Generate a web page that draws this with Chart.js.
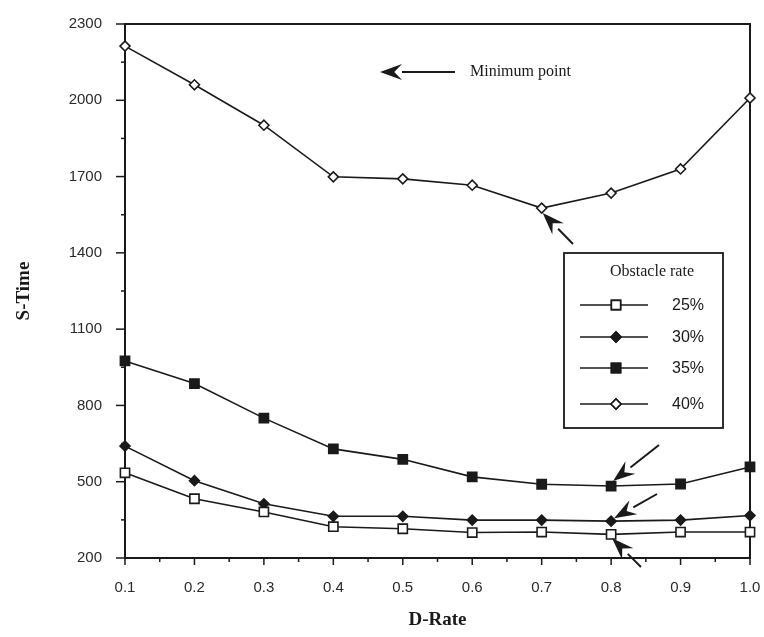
<!DOCTYPE html>
<html>
<head>
<meta charset="utf-8">
<script src="https://cdn.jsdelivr.net/npm/chart.js@4.4.0/dist/chart.umd.min.js"></script>
<style>
  html, body { margin: 0; padding: 0; background: #fff; }
</style>
</head>
<body>
<canvas id="mygraph" width="764" height="637"></canvas>
<script>
// values
const dRate = [0.1, 0.2, 0.3, 0.4, 0.5, 0.6, 0.7, 0.8, 0.9, 1.0];
const rate25 = [535, 433, 381, 323, 315, 300, 302, 293, 302, 302];
const rate30 = [640, 504, 413, 364, 364, 349, 349, 345, 349, 367];
const rate35 = [975, 886, 750, 629, 588, 519, 490, 483, 491, 558];
const rate40 = [2213, 2061, 1902, 1699, 1691, 1666, 1576, 1635, 1730, 2009];
const seriesNames = ['25%', '30%', '35%', '40%'];
const yTicks = [200, 500, 800, 1100, 1400, 1700, 2000, 2300];

const ink = '#1a1a1a';

let toPoints = (arr) => dRate.map((x, i) => ({ x: x, y: arr[i] }));

let makeSet = (label, arr, style, fill, radius) => ({
  label: label,
  data: toPoints(arr),
  borderColor: ink,
  borderWidth: 1.6,
  pointStyle: style,
  pointRadius: radius,
  pointBorderWidth: 1.6,
  pointBorderColor: ink,
  pointBackgroundColor: fill,
  tension: 0,
  clip: false
});

// tick marks and the box round the plot
const frame = {
  id: 'frame',
  beforeDatasetsDraw(chart) {
    const { ctx, chartArea: a, scales: { x, y } } = chart;
    ctx.save();
    ctx.strokeStyle = ink;
    ctx.lineWidth = 2;
    ctx.strokeRect(a.left, a.top, a.right - a.left, a.bottom - a.top);
    ctx.lineWidth = 1.5;
    for (let v = 200; v <= 2300; v += 150) {
      const py = y.getPixelForValue(v);
      const len = (v - 200) % 300 === 0 ? 9 : 4;
      ctx.beginPath(); ctx.moveTo(a.left - len, py); ctx.lineTo(a.left, py); ctx.stroke();
    }
    for (let i = 0; i <= 18; i++) {
      const v = 0.1 + i * 0.05;
      const px = x.getPixelForValue(v);
      const len = i % 2 === 0 ? 7 : 4;
      ctx.beginPath(); ctx.moveTo(px, a.bottom); ctx.lineTo(px, a.bottom + len); ctx.stroke();
    }
    ctx.restore();
  }
};

let arrow = (ctx, x1, y1, x2, y2) => {
  const ang = Math.atan2(y2 - y1, x2 - x1);
  const hl = 22, hw = 8;
  const bx = x2 - Math.cos(ang) * hl, by = y2 - Math.sin(ang) * hl;
  ctx.beginPath(); ctx.moveTo(x1, y1); ctx.lineTo(bx, by); ctx.stroke();
  ctx.beginPath();
  ctx.moveTo(x2, y2);
  ctx.lineTo(bx + Math.sin(ang) * hw, by - Math.cos(ang) * hw);
  ctx.lineTo(x2 - Math.cos(ang) * hl * 0.65, y2 - Math.sin(ang) * hl * 0.65);
  ctx.lineTo(bx - Math.sin(ang) * hw, by + Math.cos(ang) * hw);
  ctx.closePath(); ctx.fill();
};

// arrows to the minimum points, the note and the legend box
const notes = {
  id: 'notes',
  afterDraw(chart) {
    const { ctx, scales: { x, y } } = chart;
    ctx.save();
    ctx.strokeStyle = ink; ctx.fillStyle = ink; ctx.lineWidth = 2;

    arrow(ctx, 455, 72, 380, 72);
    ctx.font = '16px "Liberation Serif"';
    ctx.textBaseline = 'middle';
    ctx.fillText('Minimum point', 470, 72);

    const px7 = x.getPixelForValue(0.7), px8 = x.getPixelForValue(0.8);
    arrow(ctx, 573, 244, px7 + 1, y.getPixelForValue(rate40[6]) + 5);
    arrow(ctx, 659, 445, px8 + 2, y.getPixelForValue(rate35[7]) - 5);
    arrow(ctx, 657, 494, px8 + 3, y.getPixelForValue(rate30[7]) - 3);
    arrow(ctx, 641, 567, px8 + 1, y.getPixelForValue(rate25[7]) + 4);

    // legend
    ctx.lineWidth = 1.8;
    ctx.fillStyle = '#fff';
    ctx.fillRect(564, 253, 159, 175);
    ctx.strokeRect(564, 253, 159, 175);
    ctx.fillStyle = ink;
    ctx.textAlign = 'center';
    ctx.font = '16px "Liberation Serif"';
    ctx.fillText('Obstacle rate', 652, 272);
    const rows = [305, 337, 368, 404];
    ctx.textAlign = 'left';
    ctx.font = '16px "Liberation Sans"';
    chart.data.datasets.forEach((ds, i) => {
      const ry = rows[i];
      ctx.lineWidth = 1.6;
      ctx.beginPath(); ctx.moveTo(580, ry); ctx.lineTo(648, ry); ctx.stroke();
      Chart.helpers.drawPoint(ctx, {
        pointStyle: ds.pointStyle, radius: ds.pointRadius, borderWidth: 1.6, rotation: 0
      }, 616, ry);
      ctx.fillStyle = ds.pointBackgroundColor;
      ctx.fill();
      ctx.stroke();
      ctx.fillStyle = ink;
      ctx.fillText(seriesNames[i], 672, ry + 1);
    });
    ctx.restore();
  }
};

const ctx = document.getElementById('mygraph').getContext('2d');
new Chart(ctx, {
  type: 'line',
  data: {
    datasets: [
      makeSet(seriesNames[0], rate25, 'rect', '#fff', 6.5),
      makeSet(seriesNames[1], rate30, 'rectRot', ink, 5),
      makeSet(seriesNames[2], rate35, 'rect', ink, 6.5),
      makeSet(seriesNames[3], rate40, 'rectRot', '#fff', 5)
    ]
  },
  options: {
    responsive: false,
    animation: false,
    layout: { padding: { left: 0, right: 14, top: 18, bottom: 0 } },
    plugins: { legend: { display: false }, tooltip: { enabled: false } },
    scales: {
      x: {
        type: 'linear',
        min: 0.1,
        max: 1.0,
        afterBuildTicks: (s) => { s.ticks = dRate.map(v => ({ value: v })); },
        afterFit: (s) => { s.height = 79; s.paddingRight = 0; s.paddingLeft = 0; },
        grid: { display: false },
        border: { display: false },
        ticks: {
          color: '#2a2a2a',
          font: { family: 'Liberation Sans', size: 15 },
          padding: 13,
          maxRotation: 0,
          callback: (v) => Number(v).toFixed(1)
        },
        title: {
          display: true,
          text: 'D-Rate',
          color: ink,
          font: { family: 'Liberation Serif', size: 19, weight: 'bold' },
          padding: { top: 0, bottom: 6 }
        }
      },
      y: {
        min: 200,
        max: 2300,
        afterBuildTicks: (s) => { s.ticks = yTicks.map(v => ({ value: v })); },
        afterFit: (s) => { s.width = 125; },
        grid: { display: false },
        border: { display: false },
        ticks: {
          color: '#2a2a2a',
          font: { family: 'Liberation Sans', size: 15 },
          padding: 15,
          callback: (v) => String(v)
        },
        title: {
          display: true,
          text: 'S-Time',
          color: ink,
          font: { family: 'Liberation Serif', size: 19, weight: 'bold' },
          padding: { top: 13, bottom: 0 }
        }
      }
    }
  },
  plugins: [frame, notes]
});
</script>
</body>
</html>
